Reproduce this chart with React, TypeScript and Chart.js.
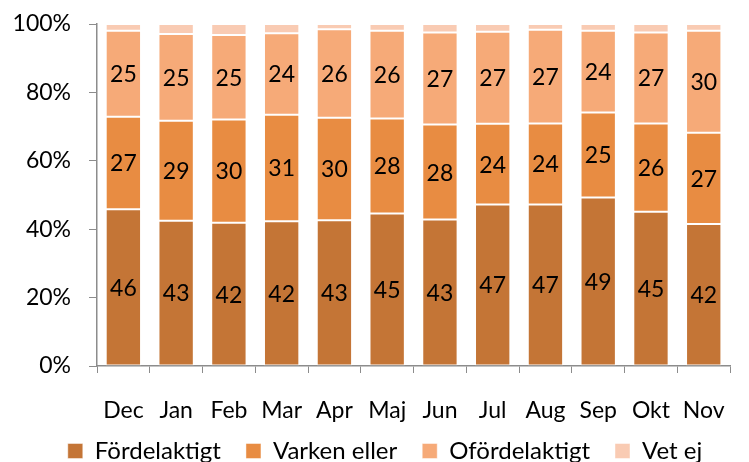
import React, { useEffect, useRef } from "react";
import { Chart, registerables } from "chart.js";

Chart.register(...registerables);

const categories = ["Dec", "Jan", "Feb", "Mar", "Apr", "Maj", "Jun", "Jul", "Aug", "Sep", "Okt", "Nov"];
const fordelaktigt = [45.8, 42.5, 41.9, 42.3, 42.6, 44.6, 42.8, 47.2, 47.2, 49.3, 45.1, 41.5];
const varkenEller = [27.1, 29.2, 30.2, 31.2, 30.0, 27.8, 27.8, 23.6, 23.7, 24.8, 25.8, 26.7];
const ofordelaktigt = [25.1, 25.4, 24.7, 23.8, 25.9, 25.6, 26.9, 26.9, 27.4, 23.9, 26.6, 29.8];
const vetEj = [2.0, 2.9, 3.2, 2.7, 1.5, 2.0, 2.5, 2.3, 1.7, 2.0, 2.5, 2.0];
const yTicks = [0, 20, 40, 60, 80, 100];

const FONT = "Lato, 'Open Sans', sans-serif";
const LEGEND_HEIGHT = 34;
const LEGEND_SHIFT_X = 15;
const LEGEND_SHIFT_Y = -14;

const labelPlugin = {
  id: "segLabels",
  afterDatasetsDraw(chart: any) {
    const ctx = chart.ctx;
    ctx.save();
    ctx.font = `23px ${FONT}`;
    ctx.fillStyle = "#000";
    ctx.textAlign = "center";
    ctx.textBaseline = "middle";
    [0, 1, 2].forEach((di) => {
      const meta = chart.getDatasetMeta(di);
      const ds = chart.data.datasets[di];
      meta.data.forEach((el: any, i: number) => {
        const v = ds.data[i] as number;
        const y = (el.y + el.base) / 2;
        ctx.fillText(String(Math.round(v)), el.x, y + 1);
      });
    });
    ctx.restore();
  },
};

const legendFitPlugin = {
  id: "legendFit",
  beforeLayout(chart: any) {
    const lg = chart.legend;
    if (lg && !lg._patched) {
      const origFit = lg.fit;
      lg.fit = function () {
        origFit.call(this);
        this.height = LEGEND_HEIGHT;
      };
      const origDraw = lg.draw;
      lg.draw = function () {
        const l = this.left;
        const r = this.right;
        const t = this.top;
        this.left = l + LEGEND_SHIFT_X;
        this.right = r + LEGEND_SHIFT_X;
        this.top = t + LEGEND_SHIFT_Y;
        origDraw.call(this);
        this.left = l;
        this.right = r;
        this.top = t;
      };
      lg._patched = true;
    }
  },
};

export default function App() {
  const ref = useRef<HTMLCanvasElement>(null);
  useEffect(() => {
    if (!ref.current) return;
    const border = "rgba(255,255,255,0.45)";
    const mk = (label: string, data: number[], color: string) => ({
      label,
      data,
      backgroundColor: color,
      borderColor: border,
      borderWidth: 1,
      borderSkipped: false,
      barPercentage: 0.67,
      categoryPercentage: 1,
    });
    const chart = new Chart(ref.current, {
      type: "bar",
      data: {
        labels: categories,
        datasets: [
          mk("Fördelaktigt", fordelaktigt, "#C47536"),
          mk("Varken eller", varkenEller, "#E88C42"),
          mk("Ofördelaktigt", ofordelaktigt, "#F6AA78"),
          mk("Vet ej", vetEj, "#F9CBB3"),
        ],
      },
      options: {
        animation: false,
        responsive: false,
        layout: { padding: { top: 0, right: 9, left: 0, bottom: 0 } },
        plugins: {
          legend: {
            position: "bottom",
            labels: {
              font: { family: FONT, size: 24 },
              color: "#000",
              boxWidth: 15,
              boxHeight: 15,
              padding: 25,
              useBorderRadius: false,
            },
          },
          tooltip: { enabled: false },
        },
        scales: {
          x: {
            stacked: true,
            afterFit: (s: any) => {
              s.height = 62;
            },
            grid: { display: true, drawOnChartArea: false, drawTicks: true, tickLength: 7, color: "#8c8c8c", offset: true },
            border: { display: true, color: "#8c8c8c", width: 1.5 },
            ticks: { font: { family: FONT, size: 23 }, color: "#000", padding: 24 },
          },
          y: {
            stacked: true,
            min: 0,
            max: 100,
            afterBuildTicks: (s: any) => {
              s.ticks = yTicks.map((v) => ({ value: v }));
            },
            afterFit: (s: any) => {
              s.width = 97;
              s.paddingTop = 24;
              s.paddingBottom = 0;
            },
            grid: { display: true, drawOnChartArea: false, drawTicks: true, tickLength: 8, color: "#8c8c8c" },
            border: { display: true, color: "#8c8c8c", width: 1.5 },
            ticks: {
              font: { family: FONT, size: 23 },
              color: "#000",
              padding: 18,
              callback: (v: any) => `${v}%`,
            },
          },
        },
      },
      plugins: [labelPlugin, legendFitPlugin],
    });
    return () => chart.destroy();
  }, []);
  return (
    <div style={{ position: "fixed", left: 0, top: 0, width: 749, height: 462, background: "#fff" }}>
      <canvas ref={ref} width={749} height={462} style={{ display: "block" }} />
    </div>
  );
}
